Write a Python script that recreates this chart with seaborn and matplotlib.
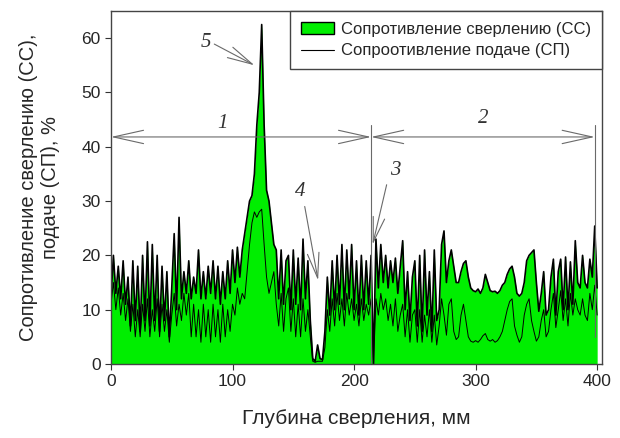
import numpy as np
import pandas as pd
import matplotlib
matplotlib.use("Agg")
import matplotlib.pyplot as plt
from matplotlib.patches import Patch
from matplotlib.lines import Line2D
import seaborn as sns

# depth grid, mm (step 2 mm)
depth = np.arange(0, 401, 2)

# drilling resistance (СС), %
cc = [12, 20, 13, 18, 12, 19, 11, 16, 7, 19, 8, 18, 6, 20, 8, 22.5, 7, 22, 8, 20,
      6, 18, 8, 17, 5, 14, 24, 10, 27, 12, 17, 13, 19, 12, 16, 13, 21, 12, 17, 12,
      18, 13, 19, 12, 18, 11, 17, 12, 19, 13, 21, 15, 21.5, 16, 21,
      24, 27, 30, 31, 35, 44, 50, 62.5, 44, 32, 30, 26, 22, 21, 12, 21, 11, 19, 20, 10,
      21, 11, 19.5, 10, 23, 12, 19, 8, 1, 0.5, 3.5, 1, 0.8, 6, 16, 9, 19, 10, 20, 11,
      22, 10, 21, 12, 22, 10, 19, 9, 20, 10, 19, 11, 20, 0, 23, 14, 22, 15, 20, 14,
      19, 15, 19.5, 13, 18, 22.7, 10, 17, 8, 16, 19, 7, 20, 6, 21, 9, 17, 6, 21, 8,
      10, 22, 24.5, 15, 19, 21, 18, 15, 15, 17, 18.5, 19, 16, 14, 13.5, 13.3, 13.8, 13, 14, 16.5,
      15, 13.5, 13.3, 13.4, 13, 13.5, 14.5, 15, 16.5, 17.5, 18, 16, 13, 12.5, 13, 15, 19, 20, 20.5, 21,
      15, 9.7, 13, 17, 9, 10, 16, 19.3, 9, 17, 19.3, 10, 19.7, 10, 18.8, 11, 22.7, 15, 14, 20,
      15, 14, 19.3, 16, 25.4, 14]

# feed resistance (СП), %
sp = [11, 15, 10, 14, 9, 13, 8, 12, 6, 11, 5, 10, 5, 11, 6, 12, 5, 10, 6, 12,
      5, 11, 6, 10, 4, 9, 13, 7, 11, 8, 13, 9, 13, 5, 11, 5, 10, 4, 11, 5,
      10, 4, 11, 5, 10, 4, 11, 5, 10, 6, 11, 9, 14, 11, 13,
      12, 17, 22, 26, 28, 27, 28, 28.5, 22, 16, 13, 15, 17, 11, 7, 13, 6, 12, 14, 6,
      12, 5, 11, 5, 12, 6, 10, 5, 0.5, 0.3, 0.5, 0.5, 0.5, 3, 10, 6, 12, 7, 13, 8,
      12, 7, 13, 9, 12, 8, 11, 7, 12, 8, 11, 9, 12, 0, 12, 9, 13, 10, 12, 8,
      11, 7, 12, 6, 9, 11, 5, 10, 4, 9, 10, 4, 10, 4, 9, 5, 10, 4, 9, 3.5,
      7, 12, 9, 5.3, 11, 12, 6, 4.5, 5, 9, 11, 8, 5, 4.2, 4, 4.3, 4, 4.5, 5.2, 5.6,
      4.5, 4.2, 4.5, 4, 4.3, 5, 6, 8, 10, 11.5, 12, 7, 5.3, 4, 5, 9, 11, 12, 8, 6,
      4.2, 5, 8, 10, 5, 6, 10, 13, 6.7, 10, 13.5, 8, 12, 7, 13, 9, 12, 10, 9, 12,
      9, 8, 13, 10, 14.5, 9]

assert len(cc) == len(depth) and len(sp) == len(depth)
df = pd.DataFrame({"depth": depth, "cc": cc, "sp": sp})

legend_labels = ["Сопротивление сверлению (СС)", "Сопроотивление подаче (СП)"]
green = "#00ee00"
grey = "#6a6a6a"

sns.set_theme(style="ticks")
plt.rcParams["font.family"] = ["Liberation Sans", "DejaVu Sans"]

fig = plt.figure(figsize=(6.2, 4.38), dpi=100)
ax = fig.add_axes([0.179, 0.169, 0.792, 0.806])

ax.fill_between(df["depth"], df["cc"], 0, color=green, lw=0)
sns.lineplot(data=df, x="depth", y="cc", ax=ax, color="black", lw=1.2)
sns.lineplot(data=df, x="depth", y="sp", ax=ax, color="black", lw=0.7)

ax.set_xlim(0, 404)
ax.set_ylim(0, 65)
ax.set_xticks([0, 100, 200, 300, 400])
ax.set_yticks([0, 10, 20, 30, 40, 50, 60])
ax.tick_params(direction="out", length=4, width=0.8, labelsize=12.5, color="#333333")
for s in ax.spines.values():
    s.set_color("#444444")
    s.set_linewidth(1.0)

ax.set_xlabel("Глубина сверления, мм", fontsize=15, labelpad=14)
ax.set_ylabel("Сопротивление сверлению (СС),\nподаче (СП), %", fontsize=14.5, labelpad=15,
              linespacing=1.25)

# region arrows and marks
arr2 = dict(arrowstyle="<->,head_length=1.8,head_width=0.4", color=grey, lw=0.8,
            shrinkA=0, shrinkB=0)
arr1 = dict(arrowstyle="->,head_length=1.5,head_width=0.35", color=grey, lw=0.8,
            shrinkA=0, shrinkB=0)
ax.annotate("", xy=(214, 41.8), xytext=(0, 41.8), arrowprops=arr2)
ax.annotate("", xy=(398, 41.8), xytext=(214, 41.8), arrowprops=arr2)
ax.plot([214, 214], [0, 44], color=grey, lw=0.8)
ax.plot([398, 398], [5, 44], color=grey, lw=0.8)
ax.annotate("", xy=(215.3, 22), xytext=(226.8, 33), arrowprops=arr1)
ax.annotate("", xy=(170.4, 15.4), xytext=(159.4, 29), arrowprops=arr1)
ax.annotate("", xy=(118, 55), xytext=(85, 58.9), arrowprops=arr1)

marks = {"1": (91.8, 44.3), "2": (306, 45.2), "3": (233.7, 35.6), "4": (155.3, 31.8), "5": (78, 59.2)}
for t, (mx, my) in marks.items():
    ax.text(mx, my, t, fontsize=15, style="italic", family=["Liberation Serif", "DejaVu Serif"],
            ha="center", va="center", color="#333333")

handles = [Patch(facecolor=green, edgecolor="black", lw=1.0),
           Line2D([], [], color="black", lw=0.8)]
leg = ax.legend(handles, legend_labels, loc="upper right", borderaxespad=0,
                fontsize=12, fancybox=False, framealpha=1, edgecolor="#444444",
                handlelength=2.0, handletextpad=0.4, borderpad=0.65, labelspacing=0.4)
leg.get_frame().set_linewidth(1.0)

fig.savefig("out.png", dpi=100)
